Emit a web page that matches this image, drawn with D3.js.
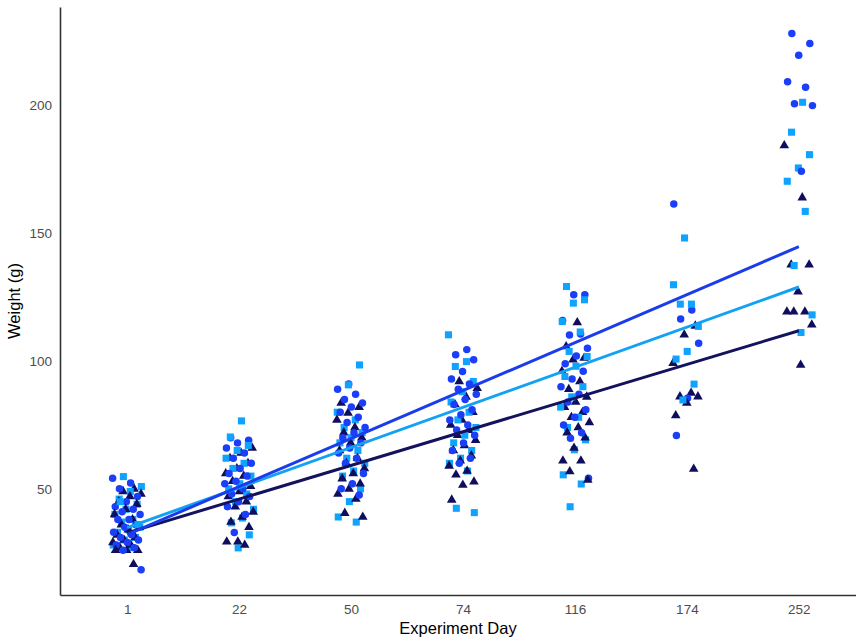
<!DOCTYPE html>
<html>
<head>
<meta charset="utf-8">
<script src="https://cdn.jsdelivr.net/npm/d3@7"></script>
<style>
  body { margin: 0; background: #fff; }
  svg { display: block; font-family: "Liberation Sans", Arial, sans-serif; }
</style>
</head>
<body>
<div id="chart"></div>
<script>
// experiment days (categories on x)
const days = ["1", "22", "50", "74", "116", "174", "252"];

// weights (g) per day, one list per day
const circleWeights = [
  [54.2, 52.3, 50, 47, 45, 43, 42, 41, 40, 38, 38, 36, 35, 33, 32, 31, 30, 29, 28, 27, 26, 18.3],
  [70, 69, 68, 66, 64, 62, 60, 58, 56, 55, 53, 52, 50, 48, 47, 45, 43, 40, 32.9],
  [91, 89, 87, 85, 83.6, 82, 80, 78, 76, 74, 72, 70, 68, 66, 64, 62, 60, 56, 52, 50, 47.6],
  [104.5, 102.5, 100.5, 95.9, 93, 91, 89, 87, 85, 83, 81, 79, 77, 75, 73, 71, 68, 65, 62, 60],
  [126, 126, 115.9, 110.6, 110.2, 105, 102, 99, 96, 93, 90, 87, 84, 81, 78, 75, 72, 69.8, 54.2],
  [161.5, 120, 116.5, 107, 85.5, 70.9],
  [228.2, 224.3, 219.7, 209.3, 207.2, 200.7, 200, 174.3]
];
const squareWeights = [
  [54.8, 50.9, 49, 46, 44, 42, 40, 38, 37, 35, 34, 33, 31, 30, 28, 27, 45, 36],
  [76.6, 70.3, 67, 65, 62, 60, 58, 55, 52, 50, 48, 45, 42, 38.6, 36.7, 32, 26.9],
  [98.5, 90.7, 80, 77, 74, 72, 70, 68, 65, 62, 60, 57, 55, 50, 45, 39, 37],
  [110.3, 99.8, 97.9, 92, 88, 84, 80, 77, 74, 71, 68, 65, 62, 60, 57, 42.4, 40.7],
  [129.2, 124, 122.7, 115.5, 111.4, 103.8, 101.8, 98, 94, 90, 86, 82, 78, 74, 69.2, 65.3, 55.5, 51.9, 43],
  [148.2, 129.9, 122.3, 122.3, 113.6, 103.8, 100.8, 91, 84.8],
  [201.3, 189.6, 180.8, 175.6, 170.4, 158.6, 137.4, 118.1, 111.2]
];
const triangleWeights = [
  [50, 49, 48, 47, 45, 44, 42, 40, 38, 36, 35, 34, 32, 31, 30, 29, 28, 27, 26, 26, 26, 20.5],
  [66, 64, 62, 60, 58, 56, 55, 53, 51, 49, 47, 45, 43, 41, 39, 37, 35, 29.3, 29.3, 28],
  [83.6, 82, 79.7, 77, 74, 72, 70, 68, 65, 62, 60, 58, 56, 54, 52, 50, 48, 46, 40.5, 39],
  [92, 89.4, 86, 83, 80, 77, 75, 73, 71, 69, 67, 65, 63, 61, 59, 57, 55.5, 52.8, 51.5, 45.7],
  [115.1, 105.7, 101.2, 100.5, 96, 92, 89, 86, 84, 82, 80, 78, 76, 74, 72, 70, 66, 61, 61, 56.8, 53.5],
  [113.8, 110.3, 99.2, 87.5, 86.1, 86.1, 83.6, 78.7, 57.8],
  [184.4, 164, 137.7, 137.7, 127.2, 119.3, 119.3, 119.3, 114.2, 98.5]
];

// fitted lines: value at first day and at last day
const fitStart = [32.1, 34.8, 32.8];
const fitEnd = [144.8, 129.0, 111.9];

const yTicks = [50, 100, 150, 200];

const groups = [
  {key: "circle", weights: circleWeights, color: "#1b3ef9", line: "#1a3ceb", symbol: d3.symbolCircle, size: 44},
  {key: "square", weights: squareWeights, color: "#0ea3ff", line: "#12a2f4", symbol: d3.symbolSquare, size: 50},
  {key: "triangle", weights: triangleWeights, color: "#0e0e5c", line: "#12125e", symbol: d3.symbolTriangle, size: 40}
];

const width = 856, height = 639;
const margin = {top: 7, right: -10, bottom: 44, left: 60};

const x = d3.scalePoint(days, [margin.left, width - margin.right]).padding(0.6);
const y = d3.scaleLinear([8.46, 238.6], [height - margin.bottom, margin.top]);

const svg = d3.select("#chart")
  .append("svg")
  .attr("width", width)
  .attr("height", height);

// points: jitter spread done with a fixed golden-ratio sequence (no randomness)
const points = [];
groups.forEach((g, gi) => {
  g.weights.forEach((list, di) => {
    list.forEach((w, i) => {
      const j = ((i * 0.618034 + gi * 0.37 + di * 0.21) % 1 - 0.5) * 0.26;
      points.push({group: g, day: days[di], w, j, order: i * 3 + gi});
    });
  });
});
points.sort((a, b) => a.order - b.order);

svg.append("g")
  .selectAll("path")
  .data(points)
  .join("path")
  .attr("transform", d => `translate(${x(d.day) + d.j * x.step()},${y(d.w)})`)
  .attr("d", d => d3.symbol(d.group.symbol, d.group.size)())
  .attr("fill", d => d.group.color);

// regression lines
const lineData = groups.map((g, i) => ({g, ends: [[days[0], fitStart[i]], [days[days.length - 1], fitEnd[i]]]}));
svg.append("g")
  .attr("fill", "none")
  .attr("stroke-width", 3)
  .selectAll("path")
  .data([lineData[2], lineData[1], lineData[0]])
  .join("path")
  .attr("stroke", d => d.g.line)
  .attr("d", d => d3.line(e => x(e[0]), e => y(e[1]))(d.ends));

// axes
const xAxis = svg.append("g")
  .attr("transform", `translate(0,${height - margin.bottom})`)
  .call(d3.axisBottom(x).tickSize(0).tickPadding(9));
const yAxis = svg.append("g")
  .attr("transform", `translate(${margin.left},0)`)
  .call(d3.axisLeft(y).tickValues(yTicks).tickSize(0).tickPadding(8));

[xAxis, yAxis].forEach(a => {
  a.select(".domain").attr("stroke", "#333").attr("stroke-width", 1.6);
  a.selectAll("text")
    .attr("fill", "#4d4d4d")
    .attr("font-size", 13.5)
    .attr("font-family", "'Liberation Sans', Arial, sans-serif");
});

svg.append("text")
  .attr("x", 458)
  .attr("y", 634)
  .attr("text-anchor", "middle")
  .attr("font-size", 16.5)
  .attr("fill", "#000")
  .text("Experiment Day");

svg.append("text")
  .attr("transform", `translate(20,301) rotate(-90)`)
  .attr("text-anchor", "middle")
  .attr("font-size", 16.5)
  .attr("fill", "#000")
  .text("Weight (g)");
</script>
</body>
</html>
